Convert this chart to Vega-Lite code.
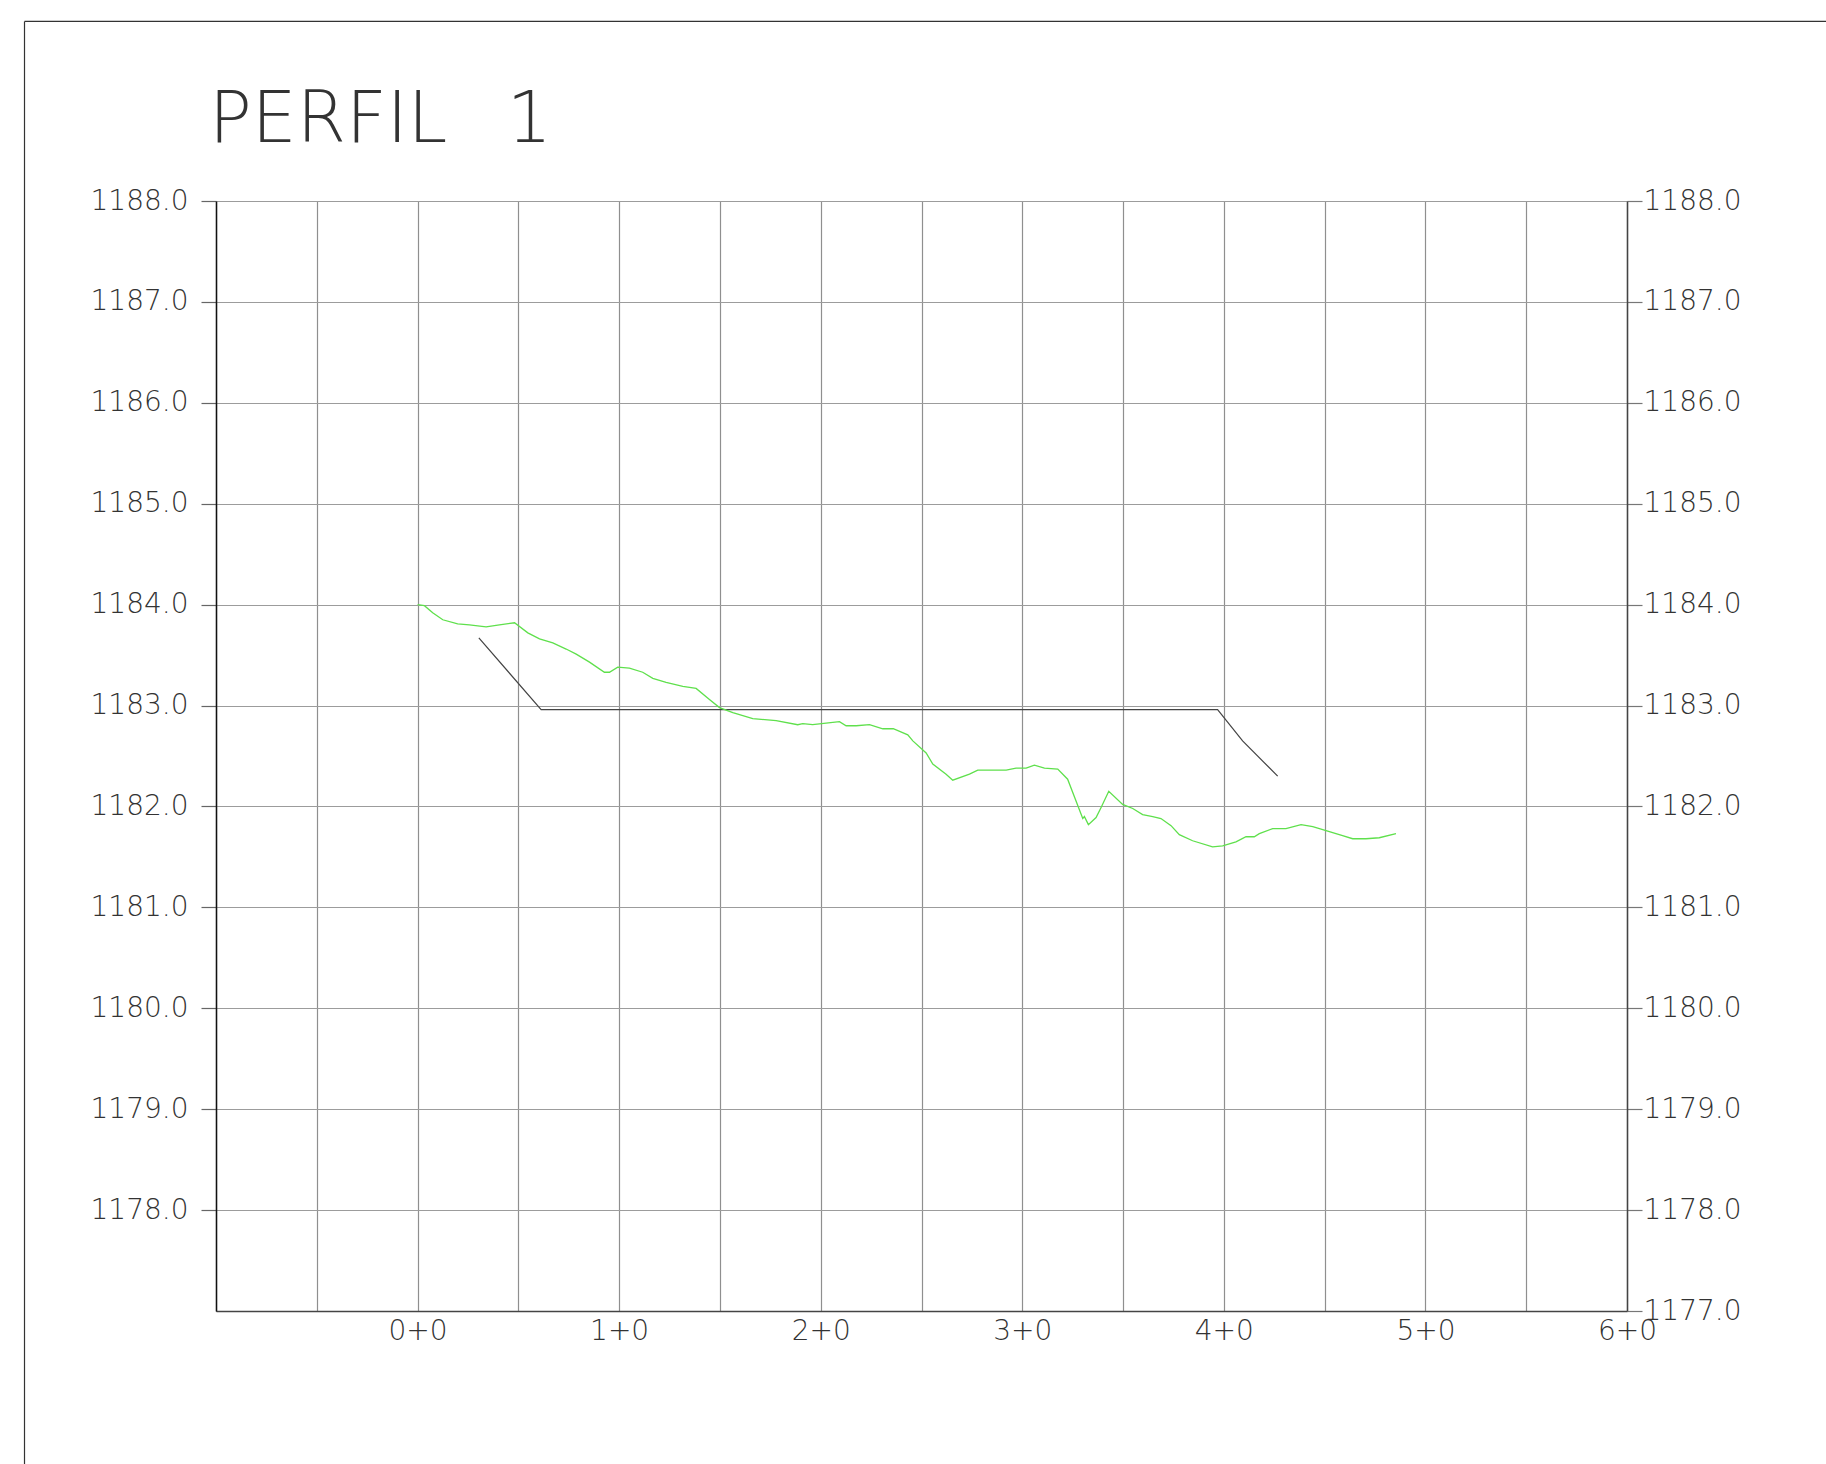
{
  "$schema": "https://vega.github.io/schema/vega-lite/v6.json",
  "width": 1411,
  "height": 1110,
  "autosize": {"type": "none"},
  "padding": {"left": 216, "top": 201, "right": 199, "bottom": 153},
  "background": "white",
  "title": {
    "text": "PERFIL\u00a0\u00a0\u20091",
    "anchor": "start",
    "frame": "group",
    "orient": "top",
    "baseline": "alphabetic",
    "offset": -192,
    "dx": -7,
    "font": "DejaVu Sans",
    "fontSize": 71,
    "fontWeight": 200,
    "color": "#333333"
  },
  "config": {
    "view": {"stroke": null},
    "font": "DejaVu Sans"
  },
  "datasets": {
    "frame": [
      {"x": -195, "x2": -195, "y": 1175, "y2": 1189.78},
      {"x": -195, "x2": 720, "y": 1189.78, "y2": 1189.78}
    ],
    "ground": [
      {"station": 0, "elev": 1184.0},
      {"station": 3.4, "elev": 1183.99},
      {"station": 7.5, "elev": 1183.92},
      {"station": 12.5, "elev": 1183.85},
      {"station": 19.9, "elev": 1183.81},
      {"station": 25.7, "elev": 1183.8},
      {"station": 34.0, "elev": 1183.78},
      {"station": 40.6, "elev": 1183.8},
      {"station": 48.1, "elev": 1183.82},
      {"station": 54.7, "elev": 1183.72},
      {"station": 60.5, "elev": 1183.66},
      {"station": 67.1, "elev": 1183.62},
      {"station": 73.7, "elev": 1183.56},
      {"station": 78.7, "elev": 1183.51},
      {"station": 85.3, "elev": 1183.43},
      {"station": 92.7, "elev": 1183.33},
      {"station": 95.2, "elev": 1183.33},
      {"station": 99.3, "elev": 1183.38},
      {"station": 105.1, "elev": 1183.37},
      {"station": 111.7, "elev": 1183.33},
      {"station": 116.7, "elev": 1183.27},
      {"station": 123.3, "elev": 1183.23},
      {"station": 131.6, "elev": 1183.19},
      {"station": 138.2, "elev": 1183.17},
      {"station": 144.8, "elev": 1183.06},
      {"station": 149.8, "elev": 1182.98},
      {"station": 156.4, "elev": 1182.93},
      {"station": 166.3, "elev": 1182.87},
      {"station": 177.9, "elev": 1182.85},
      {"station": 188.6, "elev": 1182.81},
      {"station": 191.1, "elev": 1182.82},
      {"station": 196.0, "elev": 1182.81},
      {"station": 209.3, "elev": 1182.84},
      {"station": 212.6, "elev": 1182.8},
      {"station": 217.6, "elev": 1182.8},
      {"station": 224.2, "elev": 1182.81},
      {"station": 230.8, "elev": 1182.77},
      {"station": 236.0, "elev": 1182.77},
      {"station": 243.2, "elev": 1182.71},
      {"station": 245.7, "elev": 1182.65},
      {"station": 252.3, "elev": 1182.53},
      {"station": 255.6, "elev": 1182.42},
      {"station": 262.2, "elev": 1182.32},
      {"station": 265.5, "elev": 1182.26},
      {"station": 273.8, "elev": 1182.32},
      {"station": 277.9, "elev": 1182.36},
      {"station": 283.7, "elev": 1182.36},
      {"station": 292.0, "elev": 1182.36},
      {"station": 296.9, "elev": 1182.38},
      {"station": 301.9, "elev": 1182.38},
      {"station": 306.0, "elev": 1182.41},
      {"station": 311.0, "elev": 1182.38},
      {"station": 317.6, "elev": 1182.37},
      {"station": 322.5, "elev": 1182.27},
      {"station": 330.0, "elev": 1181.88},
      {"station": 330.8, "elev": 1181.9},
      {"station": 332.8, "elev": 1181.82},
      {"station": 336.6, "elev": 1181.89},
      {"station": 339.1, "elev": 1181.99},
      {"station": 342.9, "elev": 1182.15},
      {"station": 349.8, "elev": 1182.02},
      {"station": 354.8, "elev": 1181.98},
      {"station": 359.7, "elev": 1181.92},
      {"station": 364.7, "elev": 1181.9},
      {"station": 368.8, "elev": 1181.88},
      {"station": 373.8, "elev": 1181.81},
      {"station": 377.9, "elev": 1181.72},
      {"station": 384.5, "elev": 1181.66},
      {"station": 394.4, "elev": 1181.6},
      {"station": 399.4, "elev": 1181.61},
      {"station": 406.0, "elev": 1181.65},
      {"station": 411.0, "elev": 1181.7},
      {"station": 415.1, "elev": 1181.7},
      {"station": 417.6, "elev": 1181.73},
      {"station": 424.2, "elev": 1181.78},
      {"station": 430.8, "elev": 1181.78},
      {"station": 438.3, "elev": 1181.82},
      {"station": 444.1, "elev": 1181.8},
      {"station": 450.7, "elev": 1181.76},
      {"station": 458.9, "elev": 1181.71},
      {"station": 463.9, "elev": 1181.68},
      {"station": 470.5, "elev": 1181.68},
      {"station": 477.1, "elev": 1181.69},
      {"station": 485.4, "elev": 1181.73}
    ],
    "design": [
      {"station": 30.4, "elev": 1183.67},
      {"station": 61.3, "elev": 1182.96},
      {"station": 396.9, "elev": 1182.96},
      {"station": 409.3, "elev": 1182.65},
      {"station": 426.7, "elev": 1182.3}
    ]
  },
  "resolve": {"axis": {"x": "independent", "y": "independent"}},
  "layer": [
    {
      "data": {"name": "frame"},
      "mark": {"type": "rule", "color": "#333333", "strokeWidth": 1.2, "clip": false},
      "encoding": {
        "x": {"field": "x", "type": "quantitative", "scale": {"domain": [-100, 600], "nice": false, "zero": false}, "axis": null},
        "x2": {"field": "x2"},
        "y": {"field": "y", "type": "quantitative", "scale": {"domain": [1177, 1188], "nice": false, "zero": false}, "axis": null},
        "y2": {"field": "y2"}
      }
    },
    {
      "data": {"name": "design"},
      "mark": {"type": "line", "color": "#444444", "strokeWidth": 1.2},
      "encoding": {
        "x": {"field": "station", "type": "quantitative", "scale": {"domain": [-100, 600], "nice": false, "zero": false}, "axis": null},
        "y": {
          "field": "elev", "type": "quantitative",
          "scale": {"domain": [1177, 1188], "nice": false, "zero": false},
          "axis": {
            "orient": "right",
            "values": [1177, 1178, 1179, 1180, 1181, 1182, 1183, 1184, 1185, 1186, 1187, 1188],
            "format": ".1f",
            "title": null,
            "grid": true,
            "gridColor": "#9c9c9c",
            "gridWidth": 1.2,
            "gridOpacity": 1,
            "tickSize": 15,
            "tickColor": "#777777",
            "tickWidth": 1.2,
            "domainColor": "#444444",
            "domainWidth": 1.5,
            "labelPadding": 1,
            "labelFont": "DejaVu Sans",
            "labelFontSize": 28,
            "labelFontWeight": 200,
            "labelColor": "#333333",
            "labelOverlap": false,
            "labelBound": false
          }
        }
      }
    },
    {
      "data": {"name": "ground"},
      "mark": {"type": "line", "color": "#5fe04c", "strokeWidth": 1.3},
      "encoding": {
        "x": {
          "field": "station", "type": "quantitative",
          "scale": {"domain": [-100, 600], "nice": false, "zero": false},
          "axis": {
            "orient": "bottom",
            "values": [-100, -50, 0, 50, 100, 150, 200, 250, 300, 350, 400, 450, 500, 550, 600],
            "labelExpr": "datum.value >= 0 && datum.value % 100 == 0 ? (datum.value / 100) + '+0' : ''",
            "title": null,
            "grid": true,
            "gridColor": "#8f8f8f",
            "gridWidth": 1.2,
            "gridOpacity": 1,
            "ticks": false,
            "domainColor": "#444444",
            "domainWidth": 1.5,
            "labelPadding": 6,
            "labelFont": "DejaVu Sans",
            "labelFontSize": 28,
            "labelFontWeight": 200,
            "labelColor": "#333333",
            "labelOverlap": false,
            "labelFlush": false,
            "labelBound": false
          }
        },
        "y": {
          "field": "elev", "type": "quantitative",
          "scale": {"domain": [1177, 1188], "nice": false, "zero": false},
          "axis": {
            "orient": "left",
            "values": [1178, 1179, 1180, 1181, 1182, 1183, 1184, 1185, 1186, 1187, 1188],
            "format": ".1f",
            "title": null,
            "grid": false,
            "tickSize": 15,
            "tickColor": "#666666",
            "tickWidth": 1.2,
            "domainColor": "#111111",
            "domainWidth": 1.5,
            "labelPadding": 13,
            "labelFont": "DejaVu Sans",
            "labelFontSize": 28,
            "labelFontWeight": 200,
            "labelColor": "#333333",
            "labelOverlap": false,
            "labelBound": false
          }
        }
      }
    }
  ]
}
